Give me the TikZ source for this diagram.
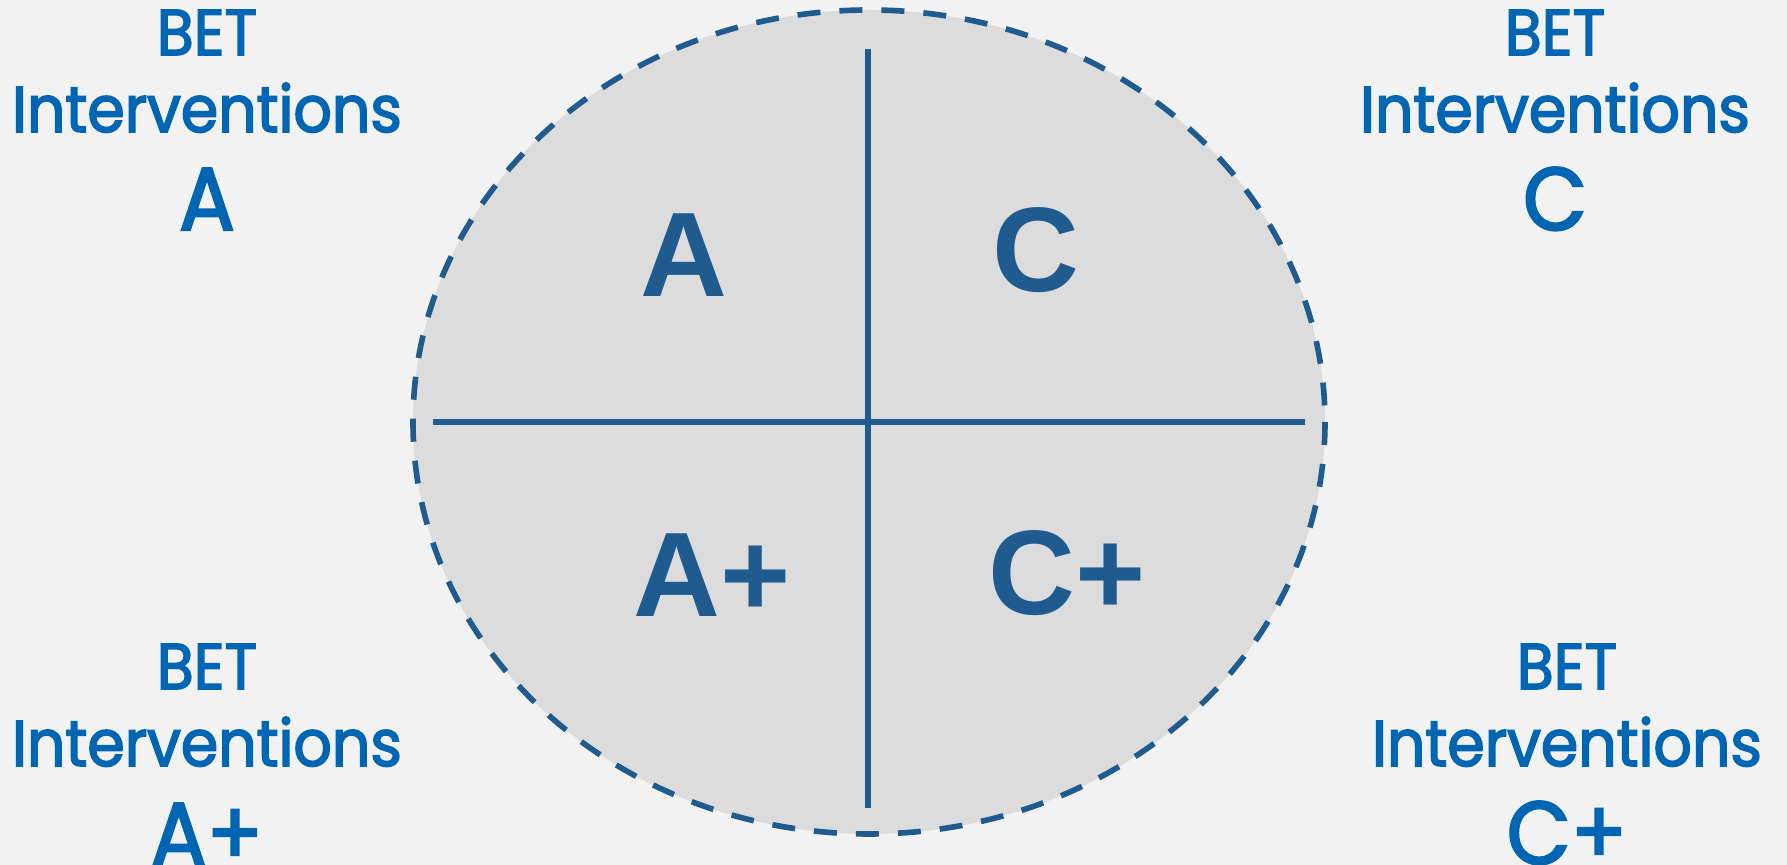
\documentclass[tikz,border=0pt]{standalone}
\usepackage{fontspec}
\setmainfont{Liberation Sans}
\newfontfamily\labelfont{Poppins}[FakeStretch=0.93, FakeBold=2.5]
\usetikzlibrary{positioning}

\definecolor{pagegray}{RGB}{242,242,242}
\definecolor{ovalgray}{RGB}{220,220,220}
\definecolor{quadblue}{RGB}{31,91,142}
\definecolor{labelblue}{RGB}{0,101,179}

\begin{document}
\begin{tikzpicture}[
    x=0.01cm, y=-0.01cm,
    quad/.style={anchor=base, inner sep=0pt, text=quadblue,
                 font=\fontsize{34.2pt}{40pt}\selectfont\bfseries},
    line1/.style={anchor=base, inner sep=0pt, text=labelblue,
                  font=\labelfont\fontsize{18.4pt}{22pt}\selectfont},
    line2/.style={anchor=base, inner sep=0pt, text=labelblue,
                  font=\labelfont\fontsize{25.3pt}{30pt}\selectfont},
    divider/.style={quadblue, line width=1.7pt}
  ]

  % page and oval
  \fill[pagegray] (0,0) rectangle (1787,865);
  \useasboundingbox (0,0) rectangle (1787,865);
  \fill[ovalgray] (869,422) ellipse [x radius=456, y radius=412];
  \draw[quadblue, line width=1.6pt, dash pattern=on 0.23cm off 0.19cm]
    (869,422) ellipse [x radius=456, y radius=412];

  % cross
  \coordinate (top) at (868,49);
  \coordinate (bottom) at (868,808);
  \coordinate (left) at (433,422);
  \coordinate (right) at (1305,422);
  \draw[divider] (top) -- (bottom);
  \draw[divider] (left) -- (right);

  % quadrants
  \node[quad] (qa) at (684,297) {A};
  \node[quad] (qc) at (1036,292) {C};
  \node[quad] (qap) at (712,617) {A+};
  \node[quad] (qcp) at (1067,615) {C+};

  % corner labels
  \node[line1] (tlbet) at (207,55) {BET};
  \node[line1] (tlint) at (207,132) {Interventions};
  \node[line2] (tlkey) at (207,230) {A};

  \node[line1] (trbet) at (1555,55) {BET};
  \node[line1] (trint) at (1555,132) {Interventions};
  \node[line2] (trkey) at (1555,230) {C};

  \node[line1] (blbet) at (207,689) {BET};
  \node[line1] (blint) at (207,766) {Interventions};
  \node[line2] (blkey) at (207,865) {A+};

  \node[line1] (brbet) at (1567,689) {BET};
  \node[line1] (brint) at (1567,766) {Interventions};
  \node[line2] (brkey) at (1567,864) {C+};

\end{tikzpicture}
\end{document}
